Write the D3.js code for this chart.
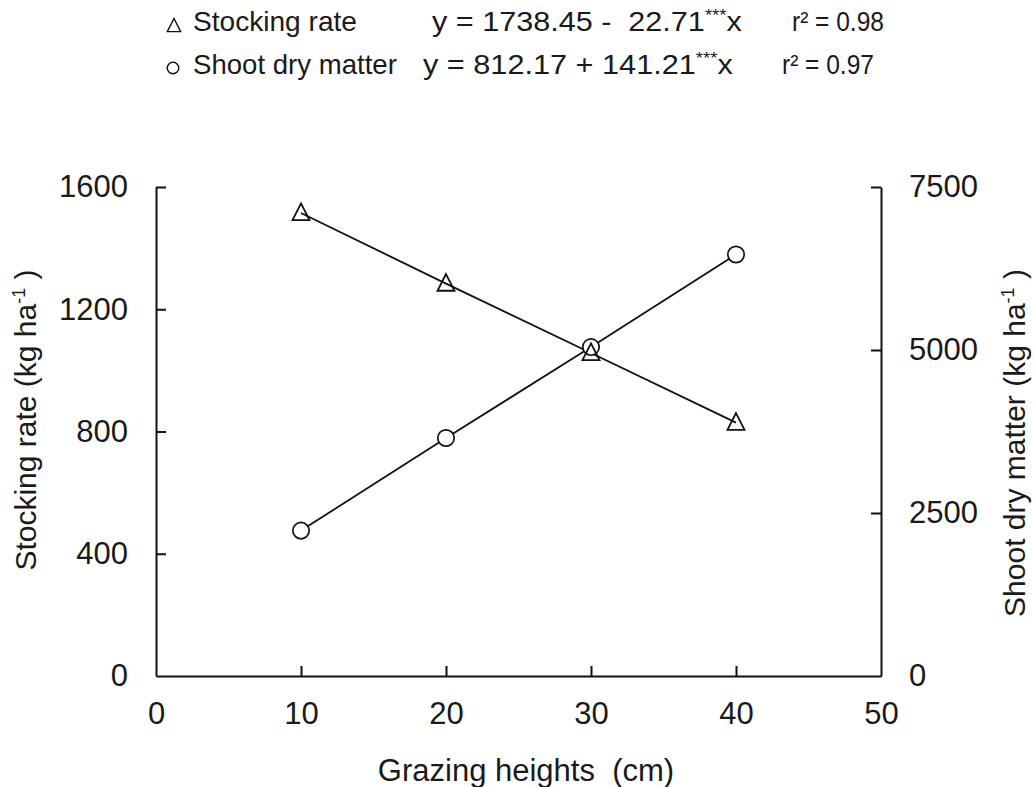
<!DOCTYPE html>
<html>
<head>
<meta charset="utf-8">
<script src="https://cdn.jsdelivr.net/npm/d3@7"></script>
<style>
  html, body { margin: 0; padding: 0; background: #fff; }
  svg { display: block; }
  text { font-family: "Liberation Sans", Arial, sans-serif; fill: #1a1a1a; white-space: pre; }
</style>
</head>
<body>
<svg id="chart" width="1033" height="787"></svg>
<script>
// ---- data ----
const heights = [10, 20, 30, 40];
const stockingRate = [1515, 1284, 1057, 829];
const shootDryMatter = [2230, 3650, 5045, 6465];
const xTicks = [0, 10, 20, 30, 40, 50];
const yLeftTicks = [0, 400, 800, 1200, 1600];
const yRightTicks = [0, 2500, 5000, 7500];

const svg = d3.select("#chart");

const x = d3.scaleLinear().domain([0, 50]).range([156, 881]);
const yL = d3.scaleLinear().domain([0, 1600]).range([676, 187]);
const yR = d3.scaleLinear().domain([0, 7500]).range([676, 187]);
const fmt = d3.format("d");

function styleAxis(g) {
  g.select(".domain").attr("stroke", "#111").attr("stroke-width", 2);
  g.selectAll(".tick line").attr("stroke", "#111").attr("stroke-width", 2);
  g.selectAll(".tick text").style("font-size", "31px").attr("fill", "#1a1a1a")
    .style("font-family", "'Liberation Sans', Arial, sans-serif");
}

// bottom axis
svg.append("g")
  .attr("transform", `translate(0,${yL(0)})`)
  .call(d3.axisBottom(x).tickValues(xTicks).tickFormat(fmt).tickSizeInner(-10).tickSizeOuter(0).tickPadding(26))
  .call(styleAxis)
  .call(g => g.selectAll(".tick").filter(d => d === 0 || d === 50).select("line").remove());

// left axis
svg.append("g")
  .attr("transform", `translate(${x(0)},0)`)
  .call(d3.axisLeft(yL).tickValues(yLeftTicks).tickFormat(fmt).tickSizeInner(-10).tickSizeOuter(0).tickPadding(28))
  .call(styleAxis)
  .call(g => g.selectAll(".tick").filter(d => d === 0).select("line").remove());

// right axis
svg.append("g")
  .attr("transform", `translate(${x(50)},0)`)
  .call(d3.axisRight(yR).tickValues(yRightTicks).tickFormat(fmt).tickSizeInner(-10).tickSizeOuter(0).tickPadding(28))
  .call(styleAxis)
  .call(g => g.selectAll(".tick").filter(d => d === 0).select("line").remove());

// axis titles
svg.append("text")
  .attr("x", 526).attr("y", 781)
  .attr("text-anchor", "middle")
  .style("font-size", "31px")
  .text("Grazing heights  (cm)");

const lt = svg.append("text")
  .attr("transform", "translate(36,420) rotate(-90)")
  .attr("text-anchor", "middle")
  .style("font-size", "30px");
lt.append("tspan").text("Stocking rate (kg ha");
lt.append("tspan").attr("dy", -11).style("font-size", "18px").text("-1");
lt.append("tspan").attr("dy", 11).text(" )");

const rt = svg.append("text")
  .attr("transform", "translate(1025,443) rotate(-90)")
  .attr("text-anchor", "middle")
  .style("font-size", "30px");
rt.append("tspan").text("Shoot dry matter (kg ha");
rt.append("tspan").attr("dy", -11).style("font-size", "18px").text("-1");
rt.append("tspan").attr("dy", 11).text(" )");

// custom triangle symbol
const triangleType = {
  draw(ctx, size) {
    const s = Math.sqrt(size);
    const hw = s * 0.5, top = -s * 0.56, bot = s * 0.42;
    ctx.moveTo(0, top);
    ctx.lineTo(hw, bot);
    ctx.lineTo(-hw, bot);
    ctx.closePath();
  }
};

const srPts = heights.map((h, i) => [h, stockingRate[i]]);
const sdPts = heights.map((h, i) => [h, shootDryMatter[i]]);

// lines
svg.append("path")
  .datum(srPts)
  .attr("fill", "none").attr("stroke", "#111").attr("stroke-width", 1.8)
  .attr("d", d3.line().x(d => x(d[0])).y(d => yL(d[1])));
svg.append("path")
  .datum(sdPts)
  .attr("fill", "none").attr("stroke", "#111").attr("stroke-width", 1.8)
  .attr("d", d3.line().x(d => x(d[0])).y(d => yR(d[1])));

// circle markers
svg.selectAll(".circ").data(sdPts).enter().append("circle")
  .attr("cx", d => x(d[0])).attr("cy", d => yR(d[1])).attr("r", 8.2)
  .attr("fill", "#fff").attr("stroke", "#111").attr("stroke-width", 1.7);

// triangle markers
svg.selectAll(".tri").data(srPts).enter().append("path")
  .attr("transform", d => `translate(${x(d[0])},${yL(d[1])})`)
  .attr("d", d3.symbol(triangleType, 290))
  .attr("fill", "none").attr("stroke", "#111").attr("stroke-width", 1.8);

// legend
function legText(xp, yp, width, size, parts) {
  const t = svg.append("text")
    .attr("transform", `translate(${xp},${yp})`)
    .style("font-size", size + "px");
  parts.forEach(p => {
    const ts = t.append("tspan").text(p.t);
    if (p.sup) ts.attr("dy", -10).style("font-size", Math.round(size * 0.62) + "px");
    if (p.back) ts.attr("dy", 10);
  });
  const w = t.node().getBBox().width;
  const sx = width / w;
  t.attr("transform", `translate(${xp},${yp}) scale(${sx},1)`);
  return t;
}
svg.append("path")
  .attr("transform", "translate(174,26)")
  .attr("d", d3.symbol(triangleType, 180))
  .attr("fill", "none").attr("stroke", "#111").attr("stroke-width", 1.4);
svg.append("circle")
  .attr("cx", 173).attr("cy", 68).attr("r", 5.8)
  .attr("fill", "none").attr("stroke", "#111").attr("stroke-width", 1.4);

legText(193, 31, 164, 27, [{t: "Stocking rate"}]);
legText(193, 74, 204, 27, [{t: "Shoot dry matter"}]);
legText(432, 31, 310, 28, [{t: "y = 1738.45 -  22.71"}, {t: "***", sup: true}, {t: "x", back: true}]);
legText(423, 74, 310, 28, [{t: "y = 812.17 + 141.21"}, {t: "***", sup: true}, {t: "x", back: true}]);
legText(792, 31, 92, 27, [{t: "r² = 0.98"}]);
legText(782, 74, 92, 27, [{t: "r² = 0.97"}]);
</script>
</body>
</html>
